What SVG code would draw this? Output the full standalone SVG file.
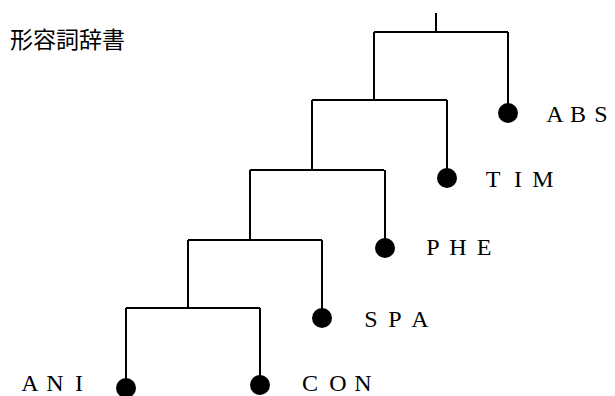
<svg xmlns="http://www.w3.org/2000/svg" width="615" height="396" viewBox="0 0 615 396">
<style>
.e{stroke:#000;stroke-width:2;fill:none}
.d{fill:#000}
.l{font-family:"Liberation Serif","DejaVu Serif",serif;font-size:24px;text-anchor:middle;fill:#000}
.t{font-family:"Noto Sans CJK JP","Noto Sans CJK SC",sans-serif;font-size:23px;fill:#000}
</style>
<rect width="615" height="396" fill="#fff"/>
<text class="t" x="10" y="48">形容詞辞書</text>
<g id="connectors">
<path class="e" d="M436,13V32M374,32H508M374,32V101M508,32V110"/>
<path class="e" d="M312,100H447M312,100V171M447,100V175"/>
<path class="e" d="M250,170H384M250,170V241M385,170V245"/>
<path class="e" d="M188,240H322M188,240V309M322,240V315"/>
<path class="e" d="M126,308H260M126,308V385M260,308V382"/>
</g>
<g id="ABS"><circle class="d" cx="508" cy="113" r="10"/><text class="l" x="555 578 601" y="122">ABS</text></g>
<g id="TIM"><circle class="d" cx="447" cy="178" r="10"/><text class="l" x="493 518 543" y="187">TIM</text></g>
<g id="PHE"><circle class="d" cx="385" cy="248" r="10"/><text class="l" x="433 458 484" y="255">PHE</text></g>
<g id="SPA"><circle class="d" cx="322" cy="318" r="10"/><text class="l" x="371 395 420" y="327">SPA</text></g>
<g id="ANI"><circle class="d" cx="126" cy="388" r="10"/><text class="l" x="30 55 79" y="391">ANI</text></g>
<g id="CON"><circle class="d" cx="260" cy="385" r="10"/><text class="l" x="310 338 363" y="391">CON</text></g>
</svg>
